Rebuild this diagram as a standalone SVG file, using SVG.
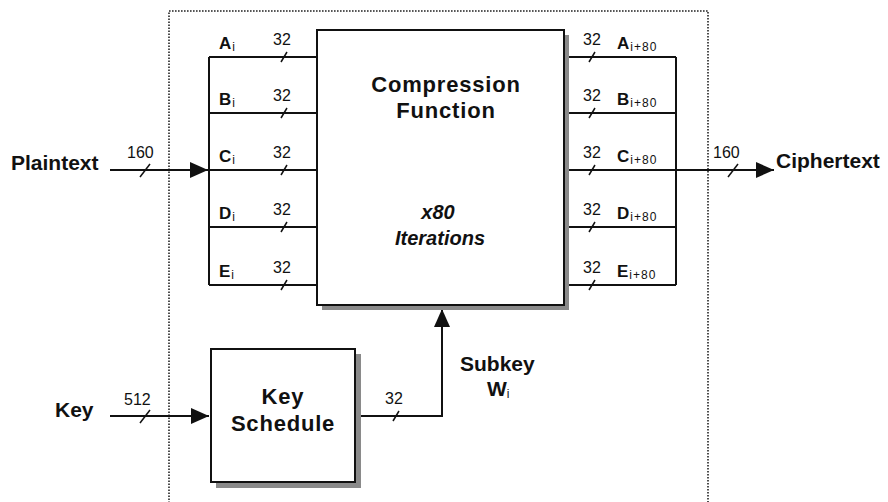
<svg xmlns="http://www.w3.org/2000/svg" xmlns:xlink="http://www.w3.org/1999/xlink" width="888" height="502" viewBox="0 0 888 502">
<style>
.ln{stroke:#111;stroke-width:2;fill:none}
.sl{stroke:#111;stroke-width:1.5;fill:none}
.box{fill:#fff;stroke:#111;stroke-width:2}
.sh{fill:#8a8a8a}
.big{font-family:"Liberation Sans",Arial,sans-serif;font-weight:bold;font-size:21px;fill:#111}
.ttl{font-family:"Liberation Sans",Arial,sans-serif;font-weight:bold;font-size:22px;fill:#111;text-anchor:middle;letter-spacing:0.8px}
.it{font-family:"Liberation Sans",Arial,sans-serif;font-weight:bold;font-style:italic;font-size:20px;fill:#111;text-anchor:middle}
.bus{font-family:"Liberation Sans",Arial,sans-serif;font-weight:bold;font-size:17px;fill:#111}
.sub{font-family:"Liberation Sans",Arial,sans-serif;font-weight:normal;font-size:12px;fill:#111;letter-spacing:1px}
.num{font-family:"Liberation Sans",Arial,sans-serif;font-size:16px;fill:#111}
.dot{stroke:#222;stroke-width:1.6;fill:none;stroke-dasharray:1.6 1.4}
</style>
<defs>
<marker id="arr" markerUnits="userSpaceOnUse" markerWidth="19" markerHeight="17" refX="18" refY="8" orient="auto">
<path d="M0,0 L18,8 L0,16 Z" fill="#111"/>
</marker>
<path id="tk" d="M-3,5 L3,-5" class="sl"/>
<path id="tkb" d="M-5,7 L5,-6" class="sl"/>
</defs>
<rect width="888" height="502" fill="#fff"/>
<path class="dot" d="M169,506 V11 H708 V506"/>

<g id="connectors">
<path class="ln" d="M110,170 H208" marker-end="url(#arr)"/>
<path class="ln" d="M110,416 H209" marker-end="url(#arr)"/>
<path class="ln" d="M564,170 H774" marker-end="url(#arr)"/>
<path class="ln" d="M355,416 H442 V309" marker-end="url(#arr)"/>
<path class="ln" d="M209,57 V285 M209,57 H317 M209,113 H317 M209,170 H317 M209,227 H317 M209,285 H317"/>
<path class="ln" d="M676,57 V285 M564,57 H676 M564,113 H676 M564,227 H676 M564,285 H676"/>
<use xlink:href="#tkb" x="145" y="170"/>
<use xlink:href="#tkb" x="733" y="170"/>
<use xlink:href="#tkb" x="145" y="416"/>
<use xlink:href="#tk" x="396" y="416"/>
<use xlink:href="#tk" x="284" y="57"/><use xlink:href="#tk" x="284" y="113"/><use xlink:href="#tk" x="284" y="170"/><use xlink:href="#tk" x="284" y="227"/><use xlink:href="#tk" x="284" y="285"/>
<use xlink:href="#tk" x="592" y="57"/><use xlink:href="#tk" x="592" y="113"/><use xlink:href="#tk" x="592" y="170"/><use xlink:href="#tk" x="592" y="227"/><use xlink:href="#tk" x="592" y="285"/>
<text class="num" x="127" y="158">160</text>
<text class="num" x="713" y="158">160</text>
<text class="num" x="124" y="405">512</text>
<text class="num" x="385" y="404">32</text>
<text class="num" x="273" y="45">32</text><text class="num" x="273" y="101">32</text><text class="num" x="273" y="158">32</text><text class="num" x="273" y="215">32</text><text class="num" x="273" y="273">32</text>
<text class="num" x="583" y="45">32</text><text class="num" x="583" y="101">32</text><text class="num" x="583" y="158">32</text><text class="num" x="583" y="215">32</text><text class="num" x="583" y="273">32</text>
</g>

<g id="compression">
<rect class="sh" x="322" y="35" width="247" height="275"/>
<rect class="box" x="317" y="30" width="247" height="275"/>
<text class="ttl" x="446" y="92">Compression</text>
<text class="ttl" x="446" y="118">Function</text>
<text class="it" x="438" y="219">x80</text>
<text class="it" x="440" y="245">Iterations</text>
</g>

<g id="keyschedule">
<rect class="sh" x="216" y="354" width="145" height="134"/>
<rect class="box" x="211" y="349" width="144" height="133"/>
<text class="ttl" x="283" y="404">Key</text>
<text class="ttl" x="283" y="431">Schedule</text>
</g>

<g id="plaintext"><text class="big" x="11" y="170">Plaintext</text></g>
<g id="ciphertext"><text class="big" x="776" y="168">Ciphertext</text></g>
<g id="key"><text class="big" x="55" y="417">Key</text></g>
<g id="subkey">
<text class="big" x="460" y="371">Subkey</text>
<text class="big" x="487" y="396">W<tspan class="sub" dy="2">i</tspan></text>
</g>

<g id="inputs">
<text class="bus" x="219" y="49">A<tspan class="sub" dx="1" dy="2">i</tspan></text>
<text class="bus" x="219" y="105">B<tspan class="sub" dx="1" dy="2">i</tspan></text>
<text class="bus" x="219" y="162">C<tspan class="sub" dx="1" dy="2">i</tspan></text>
<text class="bus" x="219" y="219">D<tspan class="sub" dx="1" dy="2">i</tspan></text>
<text class="bus" x="219" y="277">E<tspan class="sub" dx="1" dy="2">i</tspan></text>
</g>
<g id="outputs">
<text class="bus" x="617" y="49">A<tspan class="sub" dx="1" dy="2">i+80</tspan></text>
<text class="bus" x="617" y="105">B<tspan class="sub" dx="1" dy="2">i+80</tspan></text>
<text class="bus" x="617" y="162">C<tspan class="sub" dx="1" dy="2">i+80</tspan></text>
<text class="bus" x="617" y="219">D<tspan class="sub" dx="1" dy="2">i+80</tspan></text>
<text class="bus" x="617" y="277">E<tspan class="sub" dx="1" dy="2">i+80</tspan></text>
</g>
</svg>
